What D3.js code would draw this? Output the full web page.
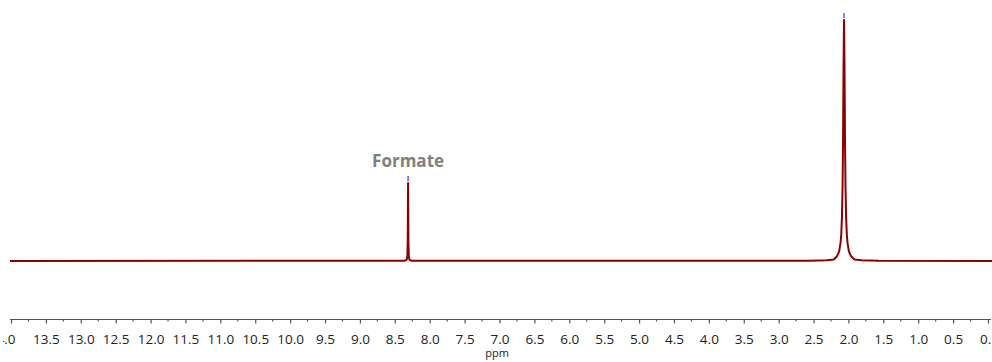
<!DOCTYPE html>
<html>
<head>
<meta charset="utf-8">
<script src="https://cdn.jsdelivr.net/npm/d3@7"></script>
<style>
  body { margin: 0; background: #fff; }
  svg { display: block; }
</style>
</head>
<body>
<div id="chart"></div>
<script>
// tick labels on the ppm axis (reversed, high field on the right)
const majorTicks = [14.0, 13.5, 13.0, 12.5, 12.0, 11.5, 11.0, 10.5, 10.0, 9.5, 9.0, 8.5, 8.0, 7.5,
                    7.0, 6.5, 6.0, 5.5, 5.0, 4.5, 4.0, 3.5, 3.0, 2.5, 2.0, 1.5, 1.0, 0.5, 0.0]

// flat baseline ends of the spectrum
const edgePpm = [14.02, -0.1]

// formate singlet (relative intensity, big peak = 1)
const formatePpm = [8.36, 8.33, 8.32, 8.315, 8.31, 8.305, 8.30, 8.29, 8.26]
const formateInt = [0.001, 0.006, 0.02, 0.08, 0.324, 0.08, 0.02, 0.006, 0.001]

// big singlet near 2.06 ppm
const bigPpm = [2.56, 2.31, 2.21, 2.163, 2.133, 2.113, 2.103, 2.093, 2.084, 2.077, 2.070, 2.063,
                2.056, 2.049, 2.042, 2.033, 2.023, 2.013, 1.993, 1.963, 1.913, 1.813, 1.563]
const bigInt = [0.001, 0.003, 0.006, 0.02, 0.04, 0.075, 0.11, 0.18, 0.31, 0.5, 0.8, 1.0,
                0.8, 0.5, 0.31, 0.18, 0.11, 0.075, 0.04, 0.02, 0.006, 0.003, 0.001]

// labelled peaks (blue marker on top)
const peakLabels = [{ppm: 8.31, h: 0.324, text: "Formate"}, {ppm: 2.063, h: 1.0, text: ""}]

const width = 992
const height = 362
const LINE = "#8b0000"
const MARKER = "#5b5bd2"

const svg = d3.select("#chart")
    .append("svg")
    .attr("width", width)
    .attr("height", height)

const x = d3.scaleLinear().domain([14, 0]).range([11, 988])
const y = d3.scaleLinear().domain([0, 1]).range([261, 20])

// build the spectrum points from the arrays
let spec = []
spec.push([edgePpm[0], 0])
formatePpm.forEach((p, i) => spec.push([p, formateInt[i]]))
bigPpm.forEach((p, i) => spec.push([p, bigInt[i]]))
spec.push([edgePpm[1], 0])

const defs = svg.append("defs")
defs.append("clipPath").attr("id", "clip")
    .append("rect").attr("x", 10).attr("y", 0).attr("width", width - 10).attr("height", 300)
// tick labels get cut a little inside the picture edges
defs.append("clipPath").attr("id", "clipText")
    .append("rect").attr("x", 3).attr("y", -50).attr("width", 988).attr("height", 100)

svg.append("path")
    .datum(spec)
    .attr("clip-path", "url(#clip)")
    .attr("fill", "none")
    .attr("stroke", LINE)
    .attr("stroke-width", 2)
    .attr("stroke-linejoin", "round")
    .attr("d", d3.line().x(d => x(d[0])).y(d => y(d[1])))

// peak markers + labels
const pk = svg.append("g").selectAll("g").data(peakLabels).join("g")
pk.append("line")
    .attr("x1", d => x(d.ppm)).attr("x2", d => x(d.ppm))
    .attr("y1", d => y(d.h) - 7).attr("y2", d => y(d.h) - 2)
    .attr("stroke", MARKER)
    .attr("stroke-width", 1.5)
pk.append("text")
    .attr("x", d => x(d.ppm))
    .attr("y", d => y(d.h) - 16)
    .attr("text-anchor", "middle")
    .attr("font-family", "'Open Sans', sans-serif")
    .attr("font-weight", "bold")
    .attr("font-size", "17px")
    .attr("fill", "#7f7f7f")
    .text(d => d.text)

// axis
const axisY = 319.5
const axis = svg.append("g")
    .attr("transform", `translate(0,${axisY})`)
    .attr("clip-path", "url(#clipText)")
    .call(d3.axisBottom(x)
        .tickValues(majorTicks)
        .tickSize(4)
        .tickSizeOuter(0)
        .tickPadding(11)
        .tickFormat(d3.format(".1f")))
axis.select(".domain").remove()
axis.append("line")
    .attr("x1", 10).attr("x2", width)
    .attr("stroke", "#555").attr("stroke-width", 1.2)
axis.selectAll(".tick line").attr("stroke", "#555").attr("stroke-width", 1.2)
axis.selectAll(".tick text")
    .attr("fill", "#222")
    .attr("font-family", "'Open Sans', sans-serif")
    .attr("font-size", "13.5px")
// the edge labels are pushed outward in the original
axis.selectAll(".tick text").filter(d => d === 14).attr("text-anchor", "end").attr("x", 4)
axis.selectAll(".tick text").filter(d => d === 0).attr("x", 1)

// minor ticks halfway between the labelled ones
axis.append("g").selectAll("line")
    .data(d3.pairs(majorTicks).map(p => (p[0] + p[1]) / 2))
    .join("line")
    .attr("x1", d => x(d)).attr("x2", d => x(d))
    .attr("y1", 0).attr("y2", 2)
    .attr("stroke", "#555").attr("stroke-width", 1.2)

svg.append("text")
    .attr("x", 497)
    .attr("y", 357)
    .attr("text-anchor", "middle")
    .attr("font-family", "'Open Sans', sans-serif")
    .attr("font-size", "11px")
    .attr("fill", "#222")
    .text("ppm")
</script>
</body>
</html>
